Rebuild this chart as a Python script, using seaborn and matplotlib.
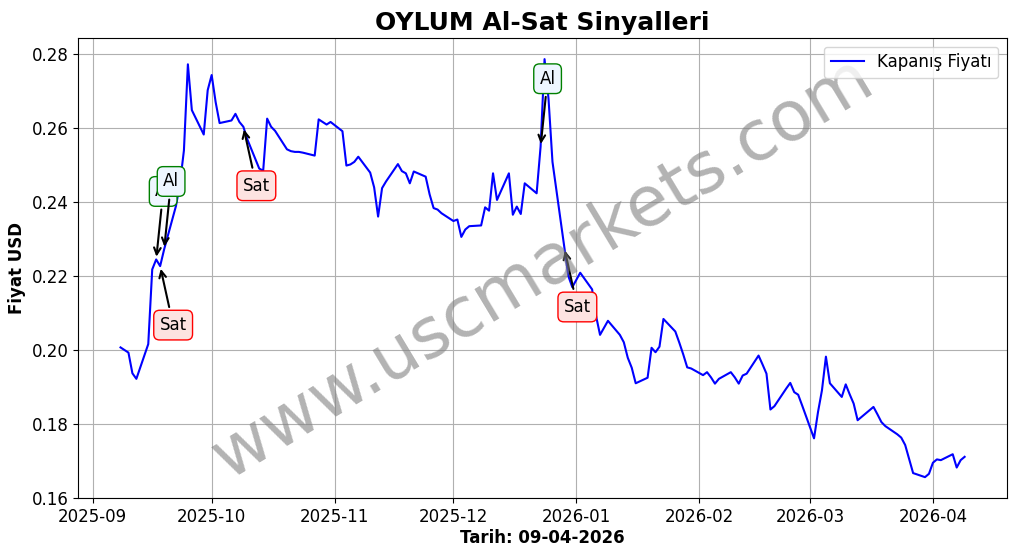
import matplotlib
matplotlib.use("Agg")
import matplotlib.pyplot as plt
import matplotlib.dates as mdates
import pandas as pd
import seaborn as sns

# closing prices (business days)
dates = [
    "2025-09-08", "2025-09-09", "2025-09-10", "2025-09-11", "2025-09-12",
    "2025-09-15", "2025-09-16", "2025-09-17", "2025-09-18", "2025-09-19",
    "2025-09-22", "2025-09-23", "2025-09-24", "2025-09-25", "2025-09-26",
    "2025-09-29", "2025-09-30", "2025-10-01", "2025-10-02", "2025-10-03",
    "2025-10-06", "2025-10-07", "2025-10-08", "2025-10-09", "2025-10-10",
    "2025-10-13", "2025-10-14", "2025-10-15", "2025-10-16", "2025-10-17",
    "2025-10-20", "2025-10-21", "2025-10-22", "2025-10-23", "2025-10-24",
    "2025-10-27", "2025-10-28", "2025-10-30", "2025-10-31",
    "2025-11-03", "2025-11-04", "2025-11-05", "2025-11-06", "2025-11-07",
    "2025-11-10", "2025-11-11", "2025-11-12", "2025-11-13", "2025-11-14",
    "2025-11-17", "2025-11-18", "2025-11-19", "2025-11-20", "2025-11-21",
    "2025-11-24", "2025-11-25", "2025-11-26", "2025-11-27", "2025-11-28",
    "2025-12-01", "2025-12-02", "2025-12-03", "2025-12-04", "2025-12-05",
    "2025-12-08", "2025-12-09", "2025-12-10", "2025-12-11", "2025-12-12",
    "2025-12-15", "2025-12-16", "2025-12-17", "2025-12-18", "2025-12-19",
    "2025-12-22", "2025-12-23", "2025-12-24", "2025-12-25", "2025-12-26",
    "2025-12-29", "2025-12-30", "2025-12-31",
    "2026-01-02", "2026-01-05", "2026-01-06", "2026-01-07", "2026-01-08",
    "2026-01-09", "2026-01-12", "2026-01-13", "2026-01-14", "2026-01-15",
    "2026-01-16", "2026-01-19", "2026-01-20", "2026-01-21", "2026-01-22",
    "2026-01-23", "2026-01-26", "2026-01-27", "2026-01-28", "2026-01-29",
    "2026-01-30", "2026-02-02", "2026-02-03", "2026-02-04", "2026-02-05",
    "2026-02-06", "2026-02-09", "2026-02-10", "2026-02-11", "2026-02-12",
    "2026-02-13", "2026-02-16", "2026-02-17", "2026-02-18", "2026-02-19",
    "2026-02-20", "2026-02-23", "2026-02-24", "2026-02-25", "2026-02-26",
    "2026-02-27", "2026-03-02", "2026-03-03", "2026-03-04", "2026-03-05",
    "2026-03-06", "2026-03-09", "2026-03-10", "2026-03-11", "2026-03-12",
    "2026-03-13", "2026-03-16", "2026-03-17", "2026-03-18", "2026-03-19",
    "2026-03-20", "2026-03-23", "2026-03-24", "2026-03-25", "2026-03-26",
    "2026-03-27", "2026-03-30", "2026-03-31", "2026-04-01", "2026-04-02",
    "2026-04-03", "2026-04-06", "2026-04-07", "2026-04-08", "2026-04-09",
]
prices = [
    0.2007, 0.2000, 0.1993, 0.1937, 0.1922,
    0.2016, 0.2218, 0.2245, 0.2227, 0.2272,
    0.2390, 0.2450, 0.2540, 0.2773, 0.2649,
    0.2583, 0.2703, 0.2744, 0.2671, 0.2614,
    0.2621, 0.2639, 0.2617, 0.2604, 0.2570,
    0.2491, 0.2485, 0.2626, 0.2604, 0.2593,
    0.2543, 0.2538, 0.2536, 0.2536, 0.2534,
    0.2526, 0.2624, 0.2610, 0.2617,
    0.2592, 0.2499, 0.2502, 0.2509, 0.2523,
    0.2480, 0.2440, 0.2361, 0.2438, 0.2456,
    0.2503, 0.2484, 0.2478, 0.2451, 0.2483,
    0.2469, 0.2421, 0.2384, 0.2380, 0.2370,
    0.2349, 0.2353, 0.2306, 0.2326, 0.2335,
    0.2337, 0.2386, 0.2377, 0.2478, 0.2406,
    0.2478, 0.2366, 0.2388, 0.2368, 0.2451,
    0.2424, 0.2550, 0.2787, 0.2680, 0.2509,
    0.2276, 0.2200, 0.2170,
    0.2209, 0.2164, 0.2092, 0.2041, 0.2060,
    0.2079, 0.2041, 0.2021, 0.1979, 0.1952,
    0.1910, 0.1925, 0.2006, 0.1994, 0.2009,
    0.2084, 0.2050, 0.2020, 0.1988, 0.1953,
    0.1950, 0.1932, 0.1940, 0.1926, 0.1909,
    0.1922, 0.1940, 0.1926, 0.1909, 0.1931,
    0.1936, 0.1985, 0.1961, 0.1936, 0.1839,
    0.1848, 0.1896, 0.1911, 0.1886, 0.1879,
    0.1850, 0.1761, 0.1832, 0.1891, 0.1982,
    0.1910, 0.1873, 0.1907, 0.1880, 0.1855,
    0.1810, 0.1837, 0.1846, 0.1826, 0.1805,
    0.1794, 0.1772, 0.1763, 0.1743, 0.1705,
    0.1667, 0.1656, 0.1665, 0.1695, 0.1704,
    0.1702, 0.1718, 0.1682, 0.1702, 0.1711,
]

# signal dates
buy_dates = ["2025-09-17", "2025-09-19", "2025-12-23"]
sell_dates = ["2025-09-18", "2025-10-09", "2025-12-29"]

df = pd.DataFrame({"Tarih": pd.to_datetime(dates), "Fiyat": prices})
price_at = dict(zip(df["Tarih"], df["Fiyat"]))

fig, ax = plt.subplots(figsize=(10.17, 5.54), dpi=100)
fig.subplots_adjust(left=0.077, right=0.990, bottom=0.101, top=0.931)

sns.lineplot(data=df, x="Tarih", y="Fiyat", color="blue", linewidth=1.5,
             label="Kapanış Fiyatı", ax=ax)

for d in buy_dates:
    t = pd.Timestamp(d)
    ax.annotate("Al", xy=(t, price_at[t]), xytext=(7, 68), textcoords="offset pixels",
                ha="center", va="center", fontsize=12,
                bbox=dict(boxstyle="round,pad=0.35", fc="#eef6ff", ec="green"),
                arrowprops=dict(arrowstyle="->", color="black", lw=1.5))

for d in sell_dates:
    t = pd.Timestamp(d)
    ax.annotate("Sat", xy=(t, price_at[t]), xytext=(13, -59), textcoords="offset pixels",
                ha="center", va="center", fontsize=12,
                bbox=dict(boxstyle="round,pad=0.35", fc="#fde3e1", ec="red"),
                arrowprops=dict(arrowstyle="->", color="black", lw=1.5))

ax.text(0.5, 0.5, "www.uscmarkets.com", transform=ax.transAxes, fontsize=50,
        color="gray", alpha=0.6, rotation=31, ha="center", va="center")

ax.xaxis.set_major_locator(mdates.MonthLocator())
ax.xaxis.set_major_formatter(mdates.DateFormatter("%Y-%m"))
ax.grid(True, color="#b0b0b0", linewidth=0.8)
ax.tick_params(labelsize=12)

ax.set_title("OYLUM Al-Sat Sinyalleri", fontsize=18, fontweight="bold")
ax.set_xlabel("Tarih: 09-04-2026", fontsize=12, fontweight="bold", labelpad=2)
ax.set_ylabel("Fiyat USD", fontsize=12, fontweight="bold")
ax.legend(loc="upper right", fontsize=12)

fig.savefig("out.png", dpi=100)
